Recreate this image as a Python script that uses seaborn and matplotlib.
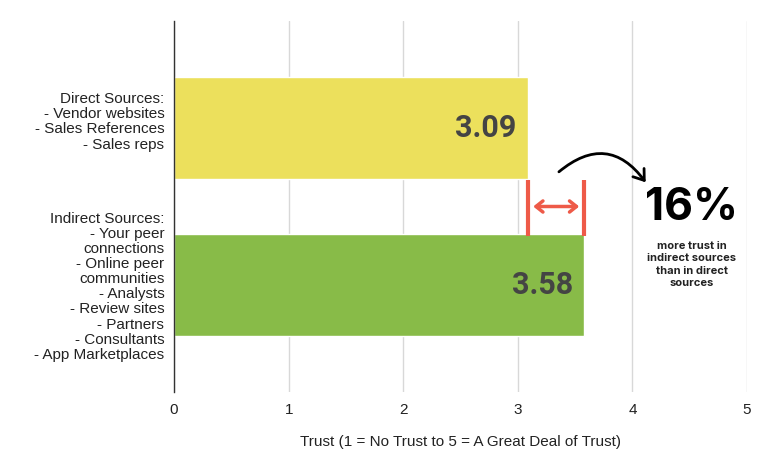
import matplotlib
matplotlib.use("Agg")
import matplotlib.pyplot as plt
from matplotlib.patches import FancyArrowPatch
from matplotlib.transforms import ScaledTranslation
import seaborn as sns
import pandas as pd

# Data
categories = [
    "Direct Sources:\n- Vendor websites\n- Sales References\n- Sales reps",
    "Indirect Sources:\n- Your peer\nconnections\n- Online peer\ncommunities\n- Analysts\n- Review sites\n- Partners\n- Consultants\n- App Marketplaces",
]
trust_scores = [3.09, 3.58]
bar_colors = ["#ece05c", "#88bb48"]
x_ticks = [0, 1, 2, 3, 4, 5]
x_label = "Trust (1 = No Trust to 5 = A Great Deal of Trust)"

df = pd.DataFrame({"source": categories, "trust": trust_scores})
pct_more = round(100 * (trust_scores[1] / trust_scores[0] - 1))

sns.set_style("white")
plt.rcParams["font.family"] = ["Liberation Sans", "DejaVu Sans"]

fig = plt.figure(figsize=(7.68, 4.74), dpi=100)
ax = fig.add_axes([0.2266, 0.173, 0.7461, 0.7827])

sns.barplot(data=df, x="trust", y="source", hue="source", palette=bar_colors,
            orient="h", width=0.65, legend=False, ax=ax, saturation=1)

ax.set_xlim(0, 5)
ax.set_ylim(1.685, -0.685)
ax.set_xticks(x_ticks)
ax.set_xticklabels([str(t) for t in x_ticks], fontsize=11, color="#222222")
ax.tick_params(axis="x", length=0, pad=8)
ax.tick_params(axis="y", length=0, pad=7, labelsize=11, labelcolor="#222222")
for lbl in ax.get_yticklabels():
    lbl.set_horizontalalignment("right")
    lbl.set_multialignment("right")
    lbl.set_linespacing(1.1)
# direct-sources label sits a little above its bar in the original
first = ax.get_yticklabels()[0]
first.set_transform(first.get_transform() + ScaledTranslation(0, 6 / 72, fig.dpi_scale_trans))
ax.set_ylabel("")
ax.set_xlabel(x_label, fontsize=11, color="#222222", labelpad=13)

ax.grid(axis="x", color="#d8d8d8", linewidth=1)
ax.set_axisbelow(True)
for side in ["top", "right", "bottom"]:
    ax.spines[side].set_visible(False)
ax.spines["left"].set_color("#333333")
ax.spines["left"].set_linewidth(1)
ax.spines["left"].set_zorder(3)

# value labels inside the bars
for i, v in enumerate(trust_scores):
    ax.text(v - 0.1, i, f"{v:.2f}", ha="right", va="center", fontsize=22,
            fontweight="bold", color="#444444", family=["Roboto", "DejaVu Sans"])

# red bracket showing the gap
red = "#ee5a48"
for v in trust_scores:
    ax.plot([v, v], [0.33, 0.69], color=red, lw=3, solid_capstyle="butt", zorder=4)
ax.add_patch(FancyArrowPatch((trust_scores[0] + 0.02, 0.5), (trust_scores[1] - 0.02, 0.5),
                             arrowstyle="<->,head_length=5,head_width=4", color=red,
                             lw=2.5, zorder=4))

# curved black arrow
ax.add_patch(FancyArrowPatch((3.34, 0.29), (4.13, 0.36),
                             connectionstyle="arc3,rad=-0.55",
                             arrowstyle="->,head_length=7,head_width=5",
                             color="black", lw=2, zorder=4))

ax.text(4.516, 0.51, f"{pct_more}%", ha="center", va="center", fontsize=32,
        fontweight="bold", color="black", family=["Inter", "DejaVu Sans"])
ax.text(4.516, 0.87, "more trust in\nindirect sources\nthan in direct\nsources",
        ha="center", va="center", fontsize=8, fontweight="bold", color="#222222",
        linespacing=1.3, family=["Inter", "DejaVu Sans"])

fig.savefig("out.png", dpi=100)
